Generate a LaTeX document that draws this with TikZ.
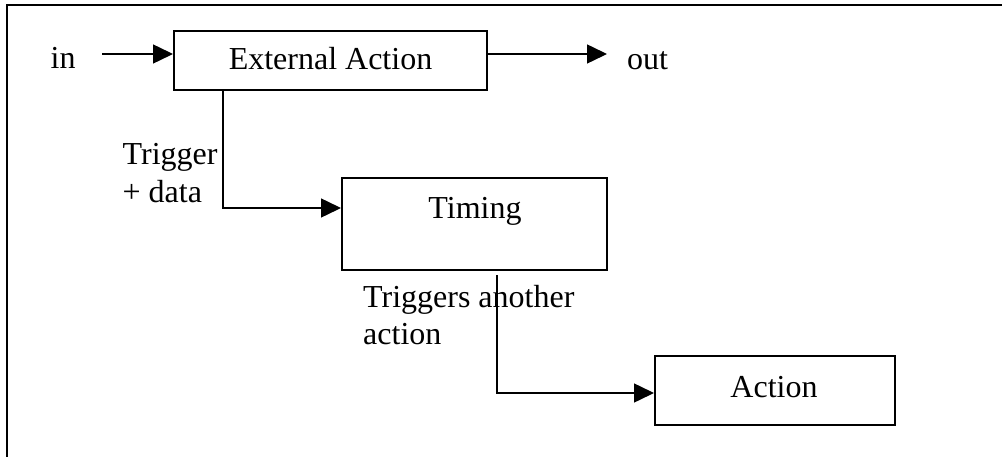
\documentclass[tikz,border=0pt]{standalone}
\usepackage{fontspec}
\setmainfont{Liberation Serif}
\usetikzlibrary{arrows.meta}
\begin{document}
\begin{tikzpicture}[x=1pt,y=-1pt,
  box/.style={draw=black,line width=2pt,rectangle,inner sep=0pt},
  lbl/.style={inner sep=0pt,font=\fontsize{32}{37}\selectfont,anchor=base west},
  ctr/.style={inner sep=0pt,font=\fontsize{32}{37}\selectfont,anchor=base},
  arr/.style={draw=black,line width=1.5pt,-{Triangle[length=20pt,width=19pt]}},
  conn/.style={draw=black,line width=1.5pt}]
\useasboundingbox (0,0) rectangle (1003,457);
% frame
\draw[line width=2.2pt] (7,458) -- (7,5) -- (1002,5);
% boxes
\node[box,minimum width=313pt,minimum height=59pt] (ext) at (330.5,60.5) {};
\node[ctr] (extT) at (330.5,70) {External Action};
\node[box,minimum width=265pt,minimum height=92pt] (tim) at (474.5,224) {};
\node[ctr] (timT) at (475,218) {Timing};
\node[box,minimum width=240pt,minimum height=69pt] (act) at (775,390.5) {};
\node[ctr] (actT) at (774,397) {Action};
% labels
\node[lbl] (in) at (50.5,69) {in};
\node[lbl] (out) at (627,70) {out};
\node[lbl] (trg1) at (122.5,165) {Trigger};
\node[lbl] (trg2) at (122.5,202) {+ data};
\node[lbl] (ta1) at (363,307) {Triggers another};
\node[lbl] (ta2) at (363,344) {action};
% connectors
\coordinate (inS) at (102,54);
\coordinate (outE) at (607,54);
\draw[arr] (inS) -- (ext.west |- inS);
\draw[arr] (ext.east |- outE) -- (outE);
\coordinate (c1) at (223,208);
\draw[arr] (ext.south -| c1) -- (c1) -- (c1 -| tim.west);
\coordinate (c2) at (497,393);
\draw[arr] ([yshift=-4pt]tim.south -| c2) -- (c2) -- (c2 -| act.west);
\end{tikzpicture}
\end{document}
